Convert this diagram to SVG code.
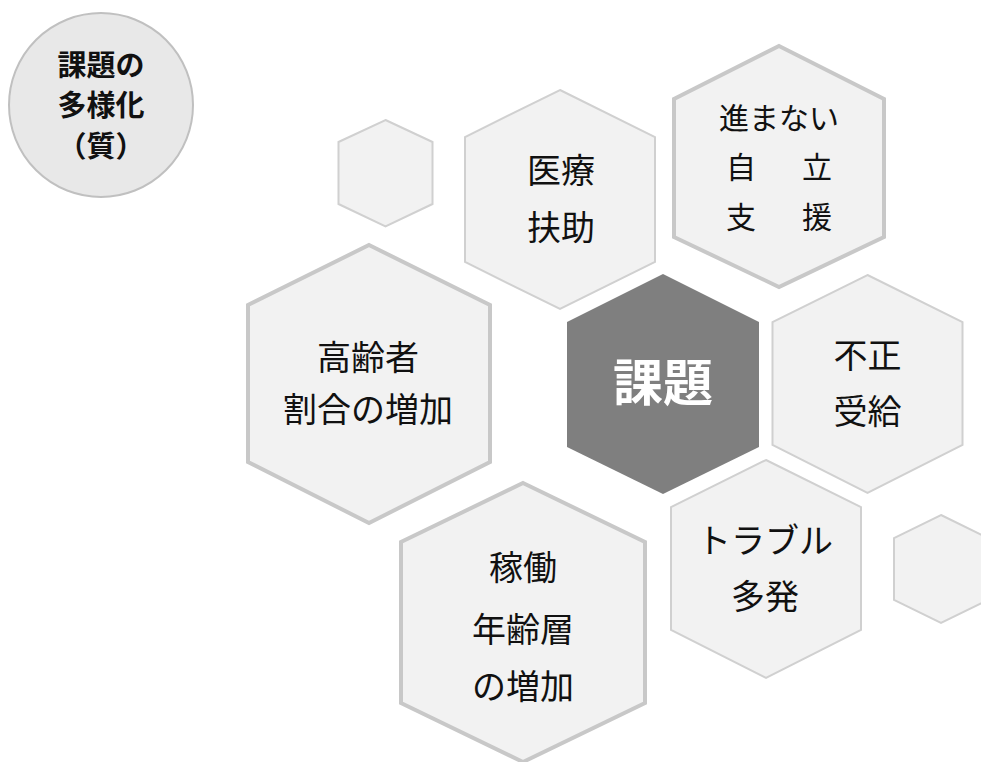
<svg xmlns="http://www.w3.org/2000/svg" width="981" height="762" viewBox="0 0 981 762">
<style>
.hex{fill:#f2f2f2;stroke:#d0d0d0;stroke-width:2}
.hexb{fill:#f2f2f2;stroke:#c8c8c8;stroke-width:4}
.t{font-family:"Noto Sans CJK JP","Noto Sans",sans-serif;font-size:34px;fill:#111;text-anchor:middle}
.s{font-size:30px}
.b{font-weight:bold}
</style>
<rect width="981" height="762" fill="#ffffff"/>
<g id="circle">
<circle cx="101" cy="105" r="92" fill="#e8e8e8" stroke="#c0c0c0" stroke-width="2"/>
<text class="t b" x="101" y="76" style="font-size:29px">課題の</text>
<text class="t b" x="101" y="116" style="font-size:29px">多様化</text>
<text class="t b" x="101" y="157" style="font-size:29px">（質）</text>
</g>
<g id="hex-small1"><polygon class="hex" points="385.5,120 432.5,142 432.5,204 385.5,226.5 338.5,204 338.5,142"/></g>
<g id="hex-iryou">
<polygon class="hex" points="560,90 655,137 655,262 560,309 465,262 465,137"/>
<text class="t" x="561" y="183">医療</text>
<text class="t" x="561" y="240">扶助</text>
</g>
<g id="hex-jiritsu">
<polygon class="hexb" points="779,46 884,99 884,237 779,287 674,237 674,99"/>
<text class="t s" x="779" y="129">進まない</text>
<text class="t s" x="741" y="178">自</text>
<text class="t s" x="817" y="178">立</text>
<text class="t s" x="741" y="228">支</text>
<text class="t s" x="817" y="228">援</text>
</g>
<g id="hex-koureisha">
<polygon class="hexb" points="369,245 490,305 490,462 369,523 248,462 248,305"/>
<text class="t" x="368" y="370">高齢者</text>
<text class="t" x="368" y="422">割合の増加</text>
</g>
<g id="hex-kadai">
<polygon points="663,274 759,322 759,447 663,494 567,447 567,322" fill="#7f7f7f"/>
<text class="t b" x="663" y="401" style="font-size:50px;fill:#ffffff">課題</text>
</g>
<g id="hex-fusei">
<polygon class="hex" points="867.5,275 962.5,322 962.5,445 867.5,493 772.5,445 772.5,322"/>
<text class="t" x="867.5" y="368">不正</text>
<text class="t" x="867.5" y="424">受給</text>
</g>
<g id="hex-kadou">
<polygon class="hexb" points="523,483 645,542 645,703 523,762 401,703 401,542"/>
<text class="t" x="523" y="580">稼働</text>
<text class="t" x="523" y="642">年齢層</text>
<text class="t" x="523" y="699">の増加</text>
</g>
<g id="hex-trouble">
<polygon class="hex" points="766,460 861,507 861,630 766,678 671,630 671,507"/>
<text class="t" x="765" y="553">トラブル</text>
<text class="t" x="765" y="609">多発</text>
</g>
<g id="hex-small2"><polygon class="hex" points="941,515 988,538 988,600 941,623 894,600 894,538"/></g>
<g id="connectors"/>
</svg>
